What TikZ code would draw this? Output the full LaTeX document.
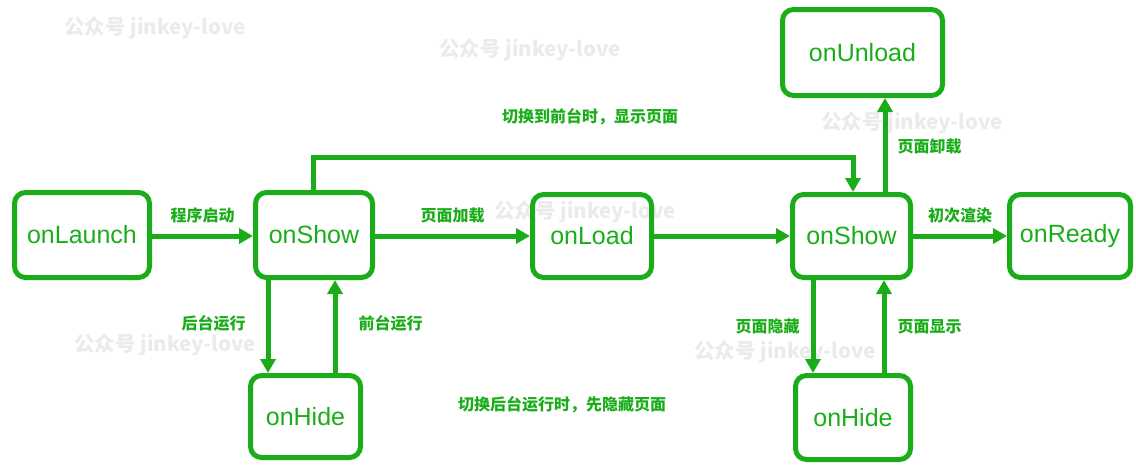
\documentclass[tikz,border=0pt]{standalone}
\usepackage{fontspec}
\setmainfont{Liberation Sans}
\newfontfamily\cjk{Noto Sans CJK SC}
\usetikzlibrary{arrows.meta}
\definecolor{wxgreen}{HTML}{1AAD19}
\tikzset{
  state/.style={draw=wxgreen, line width=5pt, rounded corners=11pt, text=wxgreen,
    font=\fontsize{25}{28}\selectfont, inner sep=0pt},
  arr/.style={draw=wxgreen, line width=5pt, -{Triangle[length=14pt,width=15pt]}},
  lbl/.style={text=wxgreen, font=\cjk\bfseries\fontsize{16}{18}\selectfont, inner sep=0pt},
  wm/.style={text=black!8, font=\cjk\bfseries\fontsize{20.5}{22}\selectfont, inner sep=0pt}
}
\begin{document}
\begin{tikzpicture}[x=1pt,y=-1pt]
\useasboundingbox (0,0) rectangle (1136,466);
% watermarks
\node[wm] (w1) at (155,28) {公众号 jinkey-love};
\node[wm] (w2) at (530,50) {公众号 jinkey-love};
\node[wm] (w3) at (585,212) {公众号 jinkey-love};
\node[wm] (w4) at (912,123) {公众号 jinkey-love};
\node[wm] (w5) at (165,345) {公众号 jinkey-love};
\node[wm] (w6) at (785,352) {公众号 jinkey-love};
% states
\node[state, minimum width=135pt, minimum height=85pt] (launch) at (82,235) {onLaunch};
\node[state, minimum width=117pt, minimum height=85pt] (show1) at (314,235) {onShow};
\node[state, minimum width=119pt, minimum height=83pt] (load) at (592,236) {onLoad};
\node[state, minimum width=118pt, minimum height=83pt] (show2) at (851.5,236) {onShow};
\node[state, minimum width=121pt, minimum height=83pt] (ready) at (1070,236) {onReady};
\node[state, minimum width=160pt, minimum height=86pt] (unload) at (862.5,52.5) {onUnload};
\node[state, minimum width=110pt, minimum height=82pt] (hide1) at (305.5,416.5) {onHide};
\node[state, minimum width=115pt, minimum height=84pt] (hide2) at (853,417.5) {onHide};
% helper coordinates
\coordinate (tl) at (313,157);
\coordinate (tr) at (853,157);
\coordinate (ux) at (885,0);
\coordinate (h1d) at (268,0);
\coordinate (h1u) at (335,0);
\coordinate (h2d) at (813,0);
\coordinate (h2u) at (884,0);
% connectors
\draw[arr] (launch.east |- 0,236) -- (show1.west |- 0,236) node[lbl, midway, above=10pt] (l1) {程序启动};
\draw[arr] (show1.east |- 0,236) -- (load.west |- 0,236) node[lbl, midway, above=10pt] (l2) {页面加载};
\draw[arr] (load.east |- 0,236) -- (show2.west |- 0,236);
\draw[arr] (show2.east |- 0,236) -- (ready.west |- 0,236) node[lbl, midway, above=10pt] (l3) {初次渲染};
\draw[arr] (show2.north -| ux) -- (unload.south -| ux) node[lbl, midway, right=10pt, yshift=-1pt] (l4) {页面卸载};
\draw[arr, line join=miter] (show1.north -| tl) -- (tl) -- (tr) -- (show2.north -| tr);
\draw[arr] (show1.south -| h1d) -- (hide1.north -| h1d) node[lbl, midway, left=20pt, yshift=3pt] (l5) {后台运行};
\draw[arr] (hide1.north -| h1u) -- (show1.south -| h1u) node[lbl, midway, right=21pt, yshift=3pt] (l6) {前台运行};
\draw[arr] (show2.south -| h2d) -- (hide2.north -| h2d) node[lbl, midway, left=11pt] (l7) {页面隐藏};
\draw[arr] (hide2.north -| h2u) -- (show2.south -| h2u) node[lbl, midway, right=11pt] (l8) {页面显示};
% free texts
\node[lbl] (t1) at (590,117) {切换到前台时，显示页面};
\node[lbl] (t2) at (562,405) {切换后台运行时，先隐藏页面};
\end{tikzpicture}
\end{document}
